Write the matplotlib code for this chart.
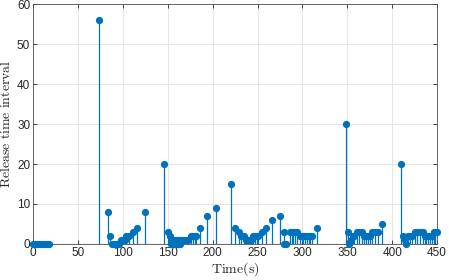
import matplotlib
matplotlib.use("Agg")
import matplotlib.pyplot as plt

# release times (s) and the interval
release_time = [0, 2, 4, 6, 8, 10, 12, 14, 16, 18,
                74, 83, 86, 88, 90, 92, 94, 96, 98, 101, 102, 104, 107, 111, 116, 125,
                146, 150, 153, 154, 155, 156, 157, 158, 159, 160, 161, 162, 163, 164,
                165, 167, 169, 171, 173, 176, 178, 180, 182, 186, 194, 204,
                220, 225, 229, 232, 235, 237, 239, 241, 243, 245, 247, 249, 251,
                255, 260, 266, 275, 279, 280, 282, 286, 288, 290, 292, 294,
                297, 299, 301, 303, 305, 307, 309, 311, 316,
                348, 351, 352, 354, 356, 358, 361, 363, 366, 369, 371, 373, 375,
                378, 381, 384, 389,
                410, 412, 414, 415, 418, 420, 422, 425, 428, 431, 434,
                436, 438, 440, 442, 444, 446, 448, 450]
interval = [0, 0, 0, 0, 0, 0, 0, 0, 0, 0,
            56, 8, 2, 0, 0, 0, 0, 0, 1, 1, 1, 2, 2, 3, 4, 8,
            20, 3, 2, 0, 1, 0, 1, 0, 1, 0, 1, 0, 1, 0,
            1, 1, 1, 1, 1, 2, 2, 2, 2, 4, 7, 9,
            15, 4, 3, 2, 2, 1, 1, 1, 1, 2, 2, 2, 2,
            3, 4, 6, 7, 3, 0, 0, 3, 3, 3, 3, 3,
            2, 2, 2, 2, 2, 2, 2, 2, 4,
            30, 3, 0, 1, 2, 2, 3, 3, 3, 2, 2, 2, 2,
            3, 3, 3, 5,
            20, 2, 1, 0, 2, 2, 2, 3, 3, 3, 3,
            2, 2, 2, 2, 2, 3, 3, 3]

x_ticks = [0, 50, 100, 150, 200, 250, 300, 350, 400, 450]
y_ticks = [0, 10, 20, 30, 40, 50, 60]

blue = "#0072BD"
txt = "#262626"

plt.rcParams["mathtext.fontset"] = "cm"
plt.rcParams["font.family"] = ["Liberation Sans", "DejaVu Sans"]

fig = plt.figure(figsize=(4.49, 2.80), dpi=100)
ax = fig.add_axes([0.0735, 0.1286, 0.9, 0.857])

markers, stems, base = ax.stem(release_time, interval, linefmt="-", markerfmt="o", basefmt="-")
stems.set_color(blue)
stems.set_linewidth(0.9)
markers.set_color(blue)
markers.set_markersize(4.2)
markers.set_clip_on(False)
markers.set_zorder(3)
base.set_color("#666666")
base.set_linewidth(0.8)

ax.set_xlim(0, 450)
ax.set_ylim(0, 60)
ax.set_xticks(x_ticks)
ax.set_yticks(y_ticks)
ax.grid(True, color="#e0e0e0", linewidth=0.6)
ax.set_axisbelow(True)
ax.tick_params(direction="in", labelsize=8.5, colors=txt, length=3, width=0.6,
               top=True, right=True, pad=2)
for s in ax.spines.values():
    s.set_color("#4d4d4d")
    s.set_linewidth(0.6)

ax.set_xlabel(r"$\mathrm{Time(s)}$", fontsize=10, color=txt, labelpad=1)
ax.set_ylabel(r"$\mathrm{Release\ time\ interval}$", fontsize=10, color=txt, labelpad=3)

fig.savefig("out.png", dpi=100)
